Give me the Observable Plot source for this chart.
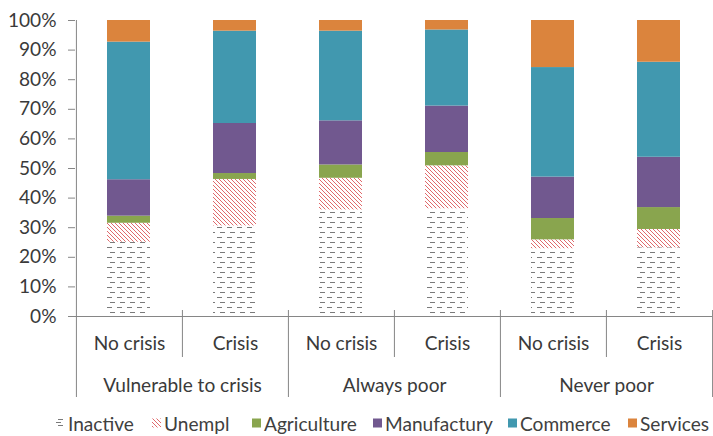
<!DOCTYPE html>
<html><head><meta charset="utf-8">
<script src="https://cdn.jsdelivr.net/npm/d3@7"></script>
<script src="https://cdn.jsdelivr.net/npm/@observablehq/plot@0.6"></script>
<style>
html,body{margin:0;padding:0;background:#fff;}
body{width:713px;height:436px;overflow:hidden;font-family:Lato,"Open Sans",sans-serif;color:#404040;}
#legend{position:relative;height:26px;width:713px;}
.item{position:absolute;top:0;height:26px;display:flex;align-items:center;white-space:nowrap;}
.item svg{margin-right:3px;}
</style></head><body><div id="chart"></div><div id="legend"></div>
<script>
// ---- data ----
const groups = ["Vulnerable to crisis", "Always poor", "Never poor"];
const conditions = ["No crisis", "Crisis"];
const sectors = ["Inactive", "Unempl", "Agriculture", "Manufactury", "Commerce", "Services"];
// one value per bar, in order: VtC-No, VtC-Crisis, AP-No, AP-Crisis, NP-No, NP-Crisis (percent)
const inactive    = [25.1, 30.6, 36.0, 36.4, 22.9, 23.2];
const unempl      = [ 6.4, 15.7, 10.7, 14.5,  3.0,  6.2];
const agriculture = [ 2.4,  2.0,  4.5,  4.5,  7.2,  7.4];
const manufactury = [12.3, 16.9, 14.9, 15.7, 14.0, 17.0];
const commerce    = [46.5, 31.2, 30.3, 25.7, 37.0, 32.1];
const services    = [ 7.3,  3.6,  3.6,  3.2, 15.9, 14.1];
const yTicks = [0, 10, 20, 30, 40, 50, 60, 70, 80, 90, 100];

// ---- style ----
const fills = ["url(#pInactive)", "url(#pUnempl)", "#89A54E", "#71588F", "#4198AF", "#DB843D"];
const textColor = "#3a3a3a";
const axisColor = "#868686";
const W = 713, H = 410, mL = 75, mR = 1, mT = 20, mB = 94;

// font sizing to match reference widths
const cv = document.createElement("canvas").getContext("2d");
cv.font = "20px Lato";
const fs = Math.round(20 * 93 / cv.measureText("Agriculture").width * 10) / 10;

// ---- table ----
const keys = [];
groups.forEach(g => conditions.forEach(c => keys.push(g + "|" + c)));
const series = [inactive, unempl, agriculture, manufactury, commerce, services];
const table = [];
sectors.forEach((s, si) => keys.forEach((k, ki) => table.push({key: k, sector: s, value: series[si][ki]})));

const bw = (W - mL - mR) / keys.length;

const defs = () => {
  const d = d3.create("svg:defs");
  const p1 = d.append("pattern").attr("id", "pInactive").attr("patternUnits", "userSpaceOnUse")
    .attr("width", 10).attr("height", 10);
  p1.append("rect").attr("width", 10).attr("height", 10).attr("fill", "#fff");
  p1.append("path").attr("d", "M0,2.5H5M7,7.5H10M0,7.5H2").attr("stroke", "#7a7a7a").attr("stroke-width", 1).attr("fill", "none");
  const p2 = d.append("pattern").attr("id", "pUnempl").attr("patternUnits", "userSpaceOnUse")
    .attr("width", 4).attr("height", 4);
  p2.append("rect").attr("width", 4).attr("height", 4).attr("fill", "#fff");
  p2.append("path").attr("d", "M-1,-1L5,5M-1,3L1,5M3,-1L5,1").attr("stroke", "#E0696B").attr("stroke-width", 1).attr("fill", "none");
  return d.node();
};

const groupStarts = keys.filter((k, i) => i % 2 === 0);
const subStarts = keys.filter((k, i) => i % 2 === 1);

const chart = Plot.plot({
  width: W, height: H,
  marginLeft: mL, marginRight: mR, marginTop: mT, marginBottom: mB,
  style: {fontFamily: "Lato, 'Open Sans', sans-serif", fontSize: fs + "px", color: textColor, background: "#fff"},
  x: {type: "band", domain: keys, padding: 0, axis: null},
  y: {domain: [0, 100], axis: null},
  color: {type: "ordinal", domain: sectors, range: fills},
  marks: [
    defs,
    Plot.barY(table, {x: "key", y: "value", fill: "sector", order: sectors, insetLeft: 31, insetRight: 32}),
    Plot.ruleY([0], {stroke: axisColor}),
    Plot.axisY({ticks: yTicks, tickFormat: d => d + "%", tickSize: 7, tickPadding: 12, stroke: axisColor, fill: textColor, label: null, fontSize: fs}),
    // y-axis line, also first group separator
    Plot.ruleX([keys[0]], {x: d => d, y1: 100, y2: 0, dx: -bw / 2, insetBottom: -81, stroke: axisColor}),
    // group separators
    Plot.ruleX(groupStarts.slice(1), {x: d => d, y1: 0, y2: 0, dx: -bw / 2, insetTop: -6, insetBottom: -81, stroke: axisColor}),
    Plot.ruleX([keys[keys.length - 1]], {x: d => d, y1: 0, y2: 0, dx: bw / 2, insetTop: -6, insetBottom: -81, stroke: axisColor}),
    // sub separators
    Plot.ruleX(subStarts, {x: d => d, y1: 0, y2: 0, dx: -bw / 2, insetTop: -6, insetBottom: -41, stroke: axisColor}),
    // labels
    Plot.text(keys, {x: d => d, y: 0, text: d => d.split("|")[1], dy: 27, fill: textColor}),
    Plot.text(groupStarts, {x: d => d, y: 0, text: d => d.split("|")[0], dx: bw / 2, dy: 69, fill: textColor})
  ]
});
document.getElementById("chart").appendChild(chart);

// ---- legend ----
const legend = d3.select("#legend").style("font-size", fs + "px");
const iconX = [56, 152, 252, 373, 508, 628];
sectors.forEach((s, i) => {
  const it = legend.append("div").attr("class", "item").style("left", iconX[i] + "px");
  const sv = it.append("svg").attr("width", 9).attr("height", 10);
  if (i === 0) {
    sv.append("path").attr("d", "M2,1.5H7M0,4.5H5M2,7.5H7").attr("stroke", "#7a7a7a").attr("fill", "none");
  } else {
    sv.append("rect").attr("width", 9).attr("height", 9).attr("y", 0.5).attr("fill", fills[i]);
  }
  it.append("span").text(s);
});
</script></body></html>
